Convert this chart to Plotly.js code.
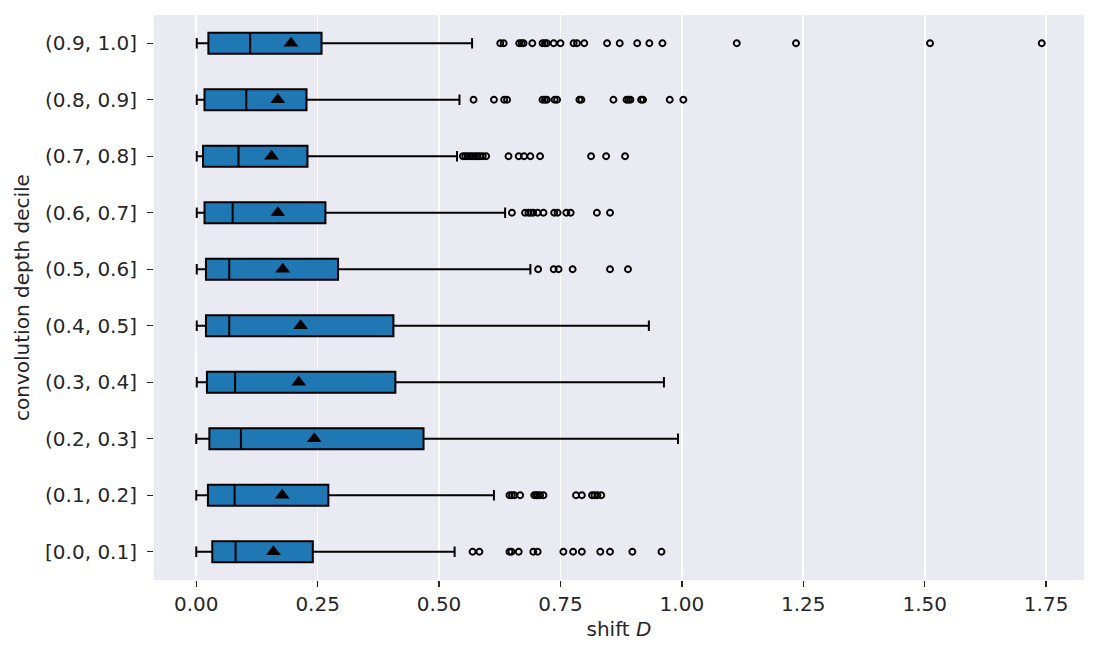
<!DOCTYPE html>
<html>
<head>
<meta charset="utf-8">
<script src="https://cdn.plot.ly/plotly-3.0.1.min.js"></script>
<style>html,body{margin:0;padding:0;background:#fff;}#chart{width:1099px;height:660px;}</style>
</head>
<body>
<div id="chart"></div>
<script>
// Categories bottom -> top
const deciles = ['[0.0, 0.1]', '(0.1, 0.2]', '(0.2, 0.3]', '(0.3, 0.4]', '(0.4, 0.5]',
                 '(0.5, 0.6]', '(0.6, 0.7]', '(0.7, 0.8]', '(0.8, 0.9]', '(0.9, 1.0]'];
const lowerWhisker = [0.000, 0.000, 0.000, 0.001, 0.001, 0.001, 0.001, 0.001, 0.001, 0.001];
const q1Values     = [0.033, 0.024, 0.027, 0.022, 0.020, 0.020, 0.017, 0.014, 0.017, 0.025];
const medianValues = [0.081, 0.079, 0.092, 0.080, 0.068, 0.068, 0.075, 0.087, 0.103, 0.111];
const q3Values     = [0.240, 0.272, 0.468, 0.410, 0.406, 0.292, 0.266, 0.229, 0.227, 0.258];
const upperWhisker = [0.532, 0.613, 0.992, 0.963, 0.932, 0.688, 0.636, 0.537, 0.542, 0.568];
const meanValues   = [0.159, 0.177, 0.243, 0.211, 0.215, 0.178, 0.168, 0.155, 0.168, 0.195];

// Outliers per decile (same order as deciles)
const outliers00 = [0.569, 0.583, 0.645, 0.649, 0.664, 0.694, 0.703, 0.756, 0.776, 0.794, 0.832, 0.852, 0.898, 0.958];
const outliers01 = [0.645, 0.650, 0.655, 0.667, 0.696, 0.700, 0.703, 0.708, 0.715, 0.782, 0.794, 0.815, 0.820, 0.826, 0.834];
const outliers02 = [];
const outliers03 = [];
const outliers04 = [];
const outliers05 = [0.704, 0.736, 0.746, 0.775, 0.852, 0.889];
const outliers06 = [0.650, 0.677, 0.684, 0.689, 0.694, 0.703, 0.715, 0.737, 0.744, 0.762, 0.771, 0.825, 0.852];
const outliers07 = [0.549, 0.554, 0.559, 0.564, 0.569, 0.574, 0.579, 0.584, 0.590, 0.597, 0.643, 0.664, 0.675, 0.688, 0.708, 0.813, 0.844, 0.883];
const outliers08 = [0.571, 0.613, 0.634, 0.640, 0.713, 0.718, 0.722, 0.738, 0.743, 0.789, 0.793, 0.859, 0.886, 0.890, 0.894, 0.916, 0.920, 0.975, 1.003];
const outliers09 = [0.626, 0.633, 0.665, 0.670, 0.674, 0.692, 0.713, 0.718, 0.722, 0.736, 0.750, 0.777, 0.784, 0.799, 0.846, 0.872, 0.908, 0.933, 0.960, 1.113, 1.235, 1.511, 1.741];
const outlierLists = [outliers00, outliers01, outliers02, outliers03, outliers04,
                      outliers05, outliers06, outliers07, outliers08, outliers09];

const outX = [], outY = [];
outlierLists.forEach((arr, i) => arr.forEach(v => { outX.push(v); outY.push(deciles[i]); }));

const textColor = '#262626';
const font = {family: 'DejaVu Sans, sans-serif', size: 20, color: textColor};

const boxTrace = {
  type: 'box',
  orientation: 'h',
  y: deciles,
  q1: q1Values,
  median: medianValues,
  q3: q3Values,
  lowerfence: lowerWhisker,
  upperfence: upperWhisker,
  fillcolor: '#1f77b4',
  line: {color: '#000000', width: 2},
  whiskerwidth: 0.5,
  boxpoints: false,
  hoverinfo: 'skip',
  showlegend: false
};

const meanTrace = {
  type: 'scatter',
  mode: 'markers',
  x: meanValues,
  y: deciles,
  marker: {symbol: 'triangle-up', size: 13, color: '#000000'},
  hoverinfo: 'skip',
  showlegend: false
};

const outlierTrace = {
  type: 'scatter',
  mode: 'markers',
  x: outX,
  y: outY,
  marker: {symbol: 'circle-open', size: 6, color: '#000000', line: {width: 1.9, color: '#000000'}},
  hoverinfo: 'skip',
  showlegend: false
};

const layout = {
  width: 1099,
  height: 660,
  margin: {l: 154, r: 15, t: 15, b: 80, pad: 0},
  paper_bgcolor: '#ffffff',
  plot_bgcolor: '#EAEAF2',
  font: font,
  boxgap: 0.47,
  showlegend: false,
  xaxis: {
    range: [-0.087, 1.828],
    tickvals: [0, 0.25, 0.5, 0.75, 1.0, 1.25, 1.5, 1.75],
    ticktext: ['0.00', '0.25', '0.50', '0.75', '1.00', '1.25', '1.50', '1.75'],
    showgrid: true,
    gridcolor: '#ffffff',
    gridwidth: 1.6,
    zeroline: false,
    showline: false,
    ticks: 'outside',
    ticklen: 6,
    tickwidth: 1.4,
    tickcolor: textColor,
    tickfont: font,
    title: {text: 'shift <i>D</i>', font: font, standoff: 6}
  },
  yaxis: {
    type: 'category',
    categoryorder: 'array',
    categoryarray: deciles,
    range: [-0.5, 9.5],
    showgrid: false,
    zeroline: false,
    showline: false,
    ticks: 'outside',
    ticklen: 6,
    tickwidth: 1.4,
    tickcolor: textColor,
    tickfont: font,
    ticklabelstandoff: 6,
    title: {text: 'convolution depth decile', font: font, standoff: 10}
  }
};

Plotly.newPlot('chart', [boxTrace, meanTrace, outlierTrace], layout, {staticPlot: true});
</script>
</body>
</html>
